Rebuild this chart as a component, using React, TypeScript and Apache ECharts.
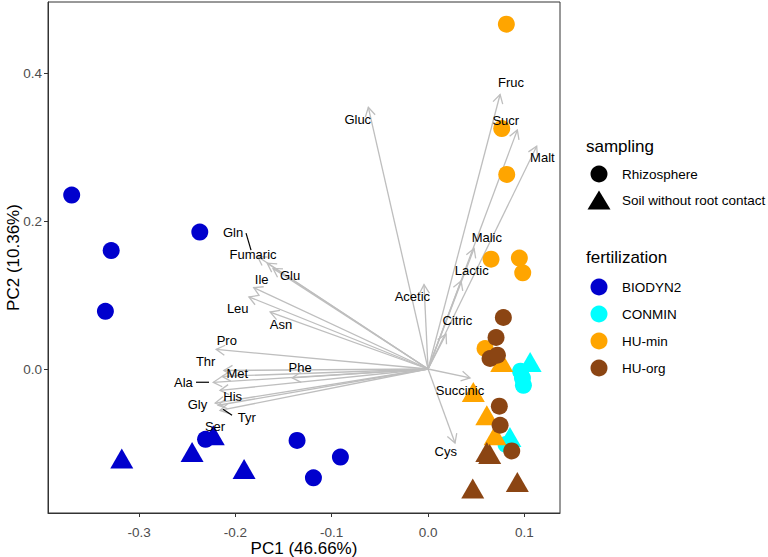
import React, { useEffect, useRef } from "react";
import * as echarts from "echarts";

// ---- categories ----
const fertilizationLevels = ["BIODYN2", "CONMIN", "HU-min", "HU-org"];
const fertilizationColors = ["#0000CD", "#00FFFF", "#FFA500", "#8B4513"];
const samplingLevels = ["Rhizosphere", "Soil without root contact"];

// ---- sample scores [PC1, PC2] ----
const biodyn2Rhizo: [number, number][] = [
  [-0.370, 0.235], [-0.329, 0.160], [-0.335, 0.078], [-0.237, 0.185],
  [-0.231, -0.095], [-0.136, -0.0965], [-0.091, -0.119], [-0.119, -0.147],
];
const biodyn2Soil: [number, number][] = [
  [-0.318, -0.121], [-0.245, -0.112], [-0.191, -0.135], [-0.223, -0.0895],
];
const conminRhizo: [number, number][] = [
  [0.096, -0.003], [0.098, -0.012], [0.099, -0.022], [0.081, -0.102],
];
const conminSoil: [number, number][] = [
  [0.106, 0.0096], [0.085, -0.092],
];
const huminRhizo: [number, number][] = [
  [0.0813, 0.466], [0.0765, 0.325], [0.0817, 0.263], [0.0654, 0.1485],
  [0.0948, 0.150], [0.0983, 0.130], [0.0592, 0.0277],
];
const huminSoil: [number, number][] = [
  [0.0765, 0.0096], [0.047, -0.031], [0.061, -0.0625], [0.0696, -0.0895],
];
const huorgRhizo: [number, number][] = [
  [0.0782, 0.0696], [0.0706, 0.0426], [0.0644, 0.0142], [0.072, 0.0187],
  [0.074, -0.0503], [0.0748, -0.076], [0.0869, -0.1107],
];
const huorgSoil: [number, number][] = [
  [0.061, -0.112], [0.064, -0.115], [0.0464, -0.1616], [0.0927, -0.1527],
];

// ---- loadings (arrow tips) ----
const loadingNames = [
  "Gluc", "Fruc", "Sucr", "Malt", "Malic", "Lactic", "Acetic", "Citric", "Succinic", "Cys",
  "Gln", "Fumaric", "Glu", "Ile", "Leu", "Asn", "Pro", "Thr", "Met", "Ala", "His", "Gly", "Tyr", "Ser", "Phe",
];
const loadingPC1 = [
  -0.062, 0.0748, 0.0927, 0.1128, 0.0478, 0.0343, -0.0042, 0.0187, 0.0436, 0.028,
  -0.177, -0.167, -0.161, -0.181, -0.186, -0.164, -0.220, -0.212, -0.214, -0.223, -0.216, -0.221, -0.218, -0.216, -0.141,
];
const loadingPC2 = [
  0.3536, 0.371, 0.323, 0.301, 0.163, 0.119, 0.114, 0.047, -0.012, -0.100,
  0.152, 0.143, 0.136, 0.110, 0.0975, 0.077, 0.0265, -0.002, -0.010, -0.018, -0.029, -0.046, -0.049, -0.056, -0.012,
];
// repelled label positions
const labelPC1 = [
  -0.073, 0.0862, 0.0807, 0.1187, 0.061, 0.0454, -0.0163, 0.0304, 0.0332, 0.0183,
  -0.2025, -0.1817, -0.1433, -0.1727, -0.1976, -0.1527, -0.209, -0.2309, -0.198, -0.254, -0.2028, -0.2395, -0.1883, -0.2212, -0.1329,
];
const labelPC2 = [
  0.3374, 0.387, 0.3355, 0.286, 0.1773, 0.1327, 0.0984, 0.065, -0.0287, -0.112,
  0.185, 0.155, 0.1259, 0.121, 0.0818, 0.0606, 0.039, 0.0096, -0.006, -0.0188, -0.0377, -0.0476, -0.066, -0.0773, 0.002,
];
// repel connector segments [x1, y1, x2, y2]
const repelSegments: [number, number, number, number][] = [
  [-0.189, 0.1836, -0.1838, 0.1606],
  [-0.2409, -0.0179, -0.2274, -0.0179],
  [-0.2129, -0.0544, -0.2035, -0.0625],
];

// ---- axes ----
const xTicks = [-0.3, -0.2, -0.1, 0.0, 0.1];
const yTicks = [0.0, 0.2, 0.4];
const xRange = [-0.3946, 0.137];
const yRange = [-0.1946, 0.496];

const FONT = "'Liberation Sans', Arial, sans-serif";
const ARROW = "#BEBEBE";

export default function App() {
  const ref = useRef<HTMLDivElement>(null);
  useEffect(() => {
    if (!ref.current) return;
    const chart = echarts.init(ref.current, undefined, { renderer: "svg" });

    const pointSeries = (data: [number, number][], color: string, tri: boolean) => ({
      type: "scatter",
      data,
      symbol: tri ? "triangle" : "circle",
      symbolSize: tri ? [23, 20] : 17,
      itemStyle: { color, opacity: 1 },
      z: 3,
      silent: true,
    });

    const arrowData = loadingNames.map((n, i) => [loadingPC1[i], loadingPC2[i]]);
    const labelData = loadingNames.map((n, i) => [labelPC1[i], labelPC2[i], n]);

    const legendGraphics: any[] = [];
    const lx = 586;
    const sx = 599;
    const tx = 622;
    legendGraphics.push({ type: "text", x: lx, y: 146, style: { text: "sampling", font: `17px ${FONT}`, fill: "#000", verticalAlign: "middle" } });
    legendGraphics.push({ type: "circle", shape: { cx: sx, cy: 174, r: 8.5 }, style: { fill: "#000" } });
    legendGraphics.push({ type: "text", x: tx, y: 174, style: { text: samplingLevels[0], font: `13.5px ${FONT}`, fill: "#000", verticalAlign: "middle" } });
    legendGraphics.push({ type: "polygon", shape: { points: [[sx, 190.5], [sx - 11.5, 209.5], [sx + 11.5, 209.5]] }, style: { fill: "#000" } });
    legendGraphics.push({ type: "text", x: tx, y: 200, style: { text: samplingLevels[1], font: `13.5px ${FONT}`, fill: "#000", verticalAlign: "middle" } });
    legendGraphics.push({ type: "text", x: lx, y: 257, style: { text: "fertilization", font: `17px ${FONT}`, fill: "#000", verticalAlign: "middle" } });
    fertilizationLevels.forEach((f, i) => {
      const y = 287 + i * 27;
      legendGraphics.push({ type: "circle", shape: { cx: sx, cy: y, r: 8.5 }, style: { fill: fertilizationColors[i] } });
      legendGraphics.push({ type: "text", x: tx, y, style: { text: f, font: `13.5px ${FONT}`, fill: "#000", verticalAlign: "middle" } });
    });

    chart.setOption({
      animation: false,
      textStyle: { fontFamily: FONT },
      grid: {
        left: 48, right: 208, top: 2, bottom: 44,
        containLabel: false,
        outerBoundsMode: "none",
        show: true, borderColor: "#333333", borderWidth: 1, backgroundColor: "#fff",
      },
      xAxis: {
        type: "value",
        min: xRange[0], max: xRange[1],
        name: "PC1 (46.66%)",
        nameLocation: "middle",
        nameGap: 27,
        nameMoveOverlap: false,
        nameTextStyle: { fontSize: 17, color: "#000", fontFamily: FONT },
        axisLine: { show: true, onZero: false, lineStyle: { color: "#333333" } },
        axisTick: { show: true, length: 4, customValues: xTicks, lineStyle: { color: "#333333" } },
        axisLabel: {
          customValues: xTicks, color: "#4D4D4D", fontSize: 13.5, margin: 12, fontFamily: FONT,
          formatter: (v: number) => v.toFixed(1),
        },
        splitLine: { show: false },
      },
      yAxis: {
        type: "value",
        min: yRange[0], max: yRange[1],
        name: "PC2 (10.36%)",
        nameLocation: "middle",
        nameGap: 26,
        nameMoveOverlap: false,
        nameTextStyle: { fontSize: 17, color: "#000", fontFamily: FONT },
        axisLine: { show: true, onZero: false, lineStyle: { color: "#333333" } },
        axisTick: { show: true, length: 4, customValues: yTicks, lineStyle: { color: "#333333" } },
        axisLabel: {
          customValues: yTicks, color: "#4D4D4D", fontSize: 13.5, margin: 6, fontFamily: FONT,
          formatter: (v: number) => v.toFixed(1),
        },
        splitLine: { show: false },
      },
      graphic: legendGraphics,
      series: [
        {
          type: "custom",
          data: arrowData,
          z: 2,
          silent: true,
          clip: false,
          renderItem: (params: any, api: any) => {
            const o = api.coord([0, 0]);
            const t = api.coord([api.value(0), api.value(1)]);
            const ang = Math.atan2(t[1] - o[1], t[0] - o[0]);
            const L = 10;
            const a = Math.PI / 6;
            const p1 = [t[0] - L * Math.cos(ang - a), t[1] - L * Math.sin(ang - a)];
            const p2 = [t[0] - L * Math.cos(ang + a), t[1] - L * Math.sin(ang + a)];
            const st = { stroke: ARROW, lineWidth: 1.3, fill: "none" };
            return {
              type: "group",
              children: [
                { type: "line", shape: { x1: o[0], y1: o[1], x2: t[0], y2: t[1] }, style: st },
                { type: "polyline", shape: { points: [p1, t, p2] }, style: st },
              ],
            };
          },
        },
        pointSeries(biodyn2Rhizo, fertilizationColors[0], false),
        pointSeries(biodyn2Soil, fertilizationColors[0], true),
        pointSeries(conminRhizo, fertilizationColors[1], false),
        pointSeries(conminSoil, fertilizationColors[1], true),
        pointSeries(huminRhizo, fertilizationColors[2], false),
        pointSeries(huminSoil, fertilizationColors[2], true),
        pointSeries(huorgSoil, fertilizationColors[3], true),
        pointSeries(huorgRhizo, fertilizationColors[3], false),
        {
          type: "custom",
          data: repelSegments,
          z: 4,
          silent: true,
          renderItem: (params: any, api: any) => {
            const a = api.coord([api.value(0), api.value(1)]);
            const b = api.coord([api.value(2), api.value(3)]);
            return { type: "line", shape: { x1: a[0], y1: a[1], x2: b[0], y2: b[1] }, style: { stroke: "#000", lineWidth: 1.2 } };
          },
        },
        {
          type: "custom",
          data: labelData,
          z: 5,
          silent: true,
          renderItem: (params: any, api: any) => {
            const p = api.coord([api.value(0), api.value(1)]);
            return {
              type: "text",
              x: p[0], y: p[1],
              style: {
                text: labelData[params.dataIndex][2] as string,
                font: `13px ${FONT}`,
                fill: "#000",
                align: "center",
                verticalAlign: "middle",
              },
            };
          },
        },
      ],
    });
    return () => chart.dispose();
  }, []);
  return <div ref={ref} style={{ width: 768, height: 557, position: "absolute", left: 0, top: 0 }} />;
}
